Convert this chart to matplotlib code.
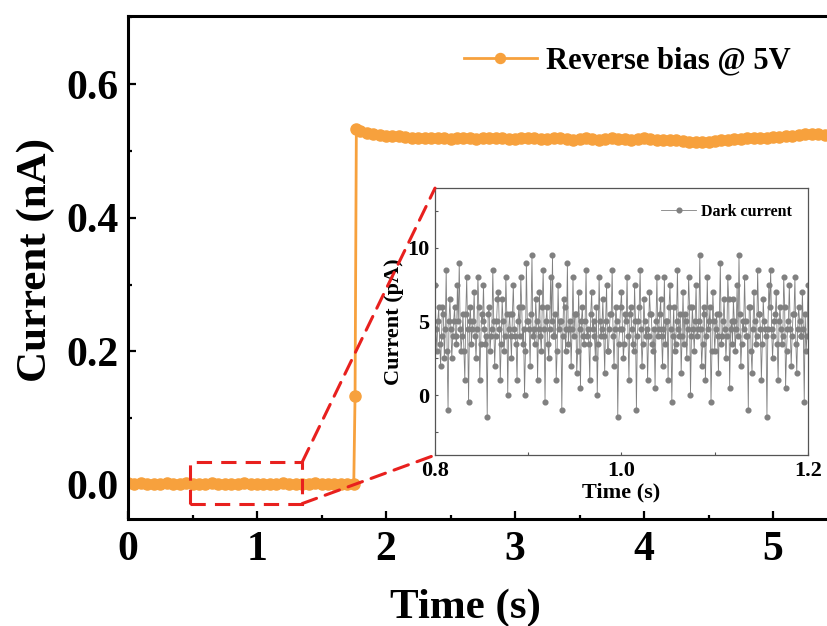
import numpy as np
import matplotlib
matplotlib.use('Agg')
import matplotlib.pyplot as plt
from matplotlib.patches import Rectangle, ConnectionPatch
from matplotlib.ticker import MultipleLocator

plt.rcParams['font.family'] = ['Liberation Serif', 'DejaVu Serif']
plt.rcParams['font.weight'] = 'bold'

# main trace: current (nA) under reverse bias, sampled every 0.05 s
t_main = np.round(np.arange(0.0, 1.751, 0.05), 2).tolist() + [1.76, 1.77] + \
    np.round(np.arange(1.80, 5.651, 0.05), 2).tolist()
i_main = [
    0.003, 0.002, 0.003, 0.002, 0.001, 0.002, 0.003, 0.002, 0.002, 0.003,
    0.002, 0.001, 0.002, 0.003, 0.002, 0.002, 0.001, 0.002, 0.003, 0.002,
    0.002, 0.001, 0.002, 0.002, 0.003, 0.002, 0.001, 0.002, 0.002, 0.003,
    0.002, 0.002, 0.001, 0.002, 0.002, 0.002,
    0.133, 0.533,
    0.530, 0.527, 0.525, 0.524, 0.523, 0.522, 0.522, 0.521, 0.520, 0.520,
    0.519, 0.519, 0.520, 0.519, 0.518, 0.519, 0.520, 0.519, 0.518, 0.519,
    0.520, 0.519, 0.519, 0.518, 0.518, 0.519, 0.520, 0.519, 0.518, 0.518,
    0.519, 0.519, 0.518, 0.517, 0.518, 0.519, 0.518, 0.517, 0.518, 0.519,
    0.518, 0.518, 0.517, 0.518, 0.519, 0.518, 0.517, 0.517, 0.516, 0.516,
    0.515, 0.514, 0.514, 0.513, 0.514, 0.515, 0.516, 0.517, 0.518, 0.518,
    0.519, 0.519, 0.520, 0.520, 0.521, 0.521, 0.522, 0.523, 0.524, 0.525,
    0.526, 0.525, 0.524, 0.525, 0.526, 0.526, 0.527, 0.527,
]

# inset trace: dark current (pA), sampled every 1 ms
t_dark = np.round(np.arange(0.8, 1.2001, 0.001), 3)
# samples at even ms (0.800, 0.802, ...)
i_dark_even = [
    7.5, 3.0, 6.0, 2.0, 6.0, 2.5, 8.5, -1.0, 6.5, 2.5, 5.0, 4.0, 7.5, 9.0, 3.0, 5.5, 1.0, 8.0, -0.5, 6.0,
    4.5, 7.0, 2.5, 8.0, 1.0, 5.5, 7.5, 3.5, -1.5, 6.0, 4.0, 8.5, 2.0, 5.0, 7.0, 1.0, 6.5, 3.0, 8.0, 0.0,
    5.5, 2.5, 7.5, 4.0, 1.0, 6.0, 8.0, 3.5, 0.0, 9.0, 5.0, 2.0, 9.5, 4.5, 6.5, 1.0, 7.0, 3.0, 8.5, -0.5,
    6.0, 2.5, 8.0, 9.5, 4.0, 1.0, 7.5, 5.0, -1.0, 6.5, 3.0, 9.0, 4.5, 2.0, 8.0, 5.5, 1.5, 7.0, 0.5, 6.0,
    3.5, 8.5, 4.5, 1.0, 7.0, 5.0, 2.5, 0.0, 8.0, 4.0, 6.5, 1.5, 7.5, 3.0, 5.5, 8.5, 2.0, 6.0, -1.5, 4.5,
    7.0, 2.5, 5.5, 8.0, 1.0, 6.0, 3.5, 7.5, -1.0, 5.0, 8.5, 2.0, 6.5, 4.0, 1.0, 7.0, 5.5, 3.0, 0.5, 8.0,
    4.5, 6.5, 2.0, 8.0, 5.0, 1.0, 7.5, -0.5, 6.0, 3.5, 8.5, 4.0, 1.5, 7.0, 5.5, 2.5, 8.0, 0.0, 6.0, 3.0,
    7.5, 4.5, 9.5, 2.0, 6.0, 1.0, 8.0, 5.0, -0.5, 7.0, 3.0, 5.5, 1.5, 9.0, 4.0, 6.5, 2.5, 8.0, 0.5, 5.0,
    6.5, 3.0, 7.5, 9.5, 2.0, 5.0, 8.0, 4.0, -1.0, 6.0, 1.5, 7.0, 3.5, 8.5, 5.5, 1.0, 6.5, 4.5, -1.5, 7.5,
    8.5, 2.5, 5.0, 7.0, 1.0, 6.0, 3.5, 8.0, 0.5, 4.5, 7.5, 2.0, 5.5, 8.0, 1.5, 6.0, 4.0, 7.0, -0.5, 3.0,
    7.5,
]
# samples at odd ms (0.801, 0.803, ...)
i_dark_odd = [
    4.5, 5.0, 3.5, 4.0, 5.5, 4.5, 3.0, 5.0, 4.5, 4.0, 6.0, 3.5, 5.0, 4.5, 4.0, 3.0, 5.5, 4.5, 5.0, 3.5,
    5.0, 4.0, 4.5, 6.0, 3.5, 5.0, 4.5, 4.0, 5.5, 3.0, 4.5, 5.0, 4.0, 6.5, 4.5, 3.5, 5.0, 4.0, 5.5, 4.5,
    4.0, 5.5, 4.5, 3.5, 5.0, 4.0, 6.0, 4.5, 3.0, 5.0, 4.5, 5.5, 4.0, 3.5, 5.0, 4.5, 4.0, 6.0, 4.5, 5.0,
    3.5, 4.5, 5.0, 4.0, 5.5, 3.0, 4.5, 5.0, 4.0, 6.0, 4.5, 3.5, 5.0, 4.5, 4.0, 5.5, 3.0, 4.5, 5.0, 4.0,
    5.0, 4.0, 3.5, 5.5, 4.5, 4.0, 6.0, 3.5, 5.0, 4.5, 4.0, 5.0, 3.0, 4.5, 5.5, 4.0, 4.5, 5.0, 3.5, 6.0,
    4.5, 3.5, 5.0, 4.0, 5.5, 4.5, 3.0, 5.0, 4.0, 6.0, 4.5, 3.5, 5.0, 4.5, 4.0, 5.5, 3.5, 4.5, 5.0, 4.0,
    5.5, 4.0, 4.5, 3.5, 5.0, 6.0, 4.5, 4.0, 3.0, 5.0, 4.5, 5.5, 4.0, 3.5, 5.0, 4.5, 6.0, 4.0, 4.5, 5.0,
    4.0, 5.0, 4.5, 3.5, 5.5, 4.0, 4.5, 6.0, 3.0, 5.0, 4.5, 4.0, 5.5, 3.5, 5.0, 4.5, 4.0, 6.5, 4.5, 3.5,
    5.0, 4.5, 4.0, 5.5, 3.5, 4.5, 5.0, 4.0, 6.0, 3.0, 4.5, 5.0, 4.0, 5.5, 4.5, 3.5, 5.0, 4.0, 4.5, 6.0,
    4.5, 4.0, 5.5, 3.5, 5.0, 4.5, 4.0, 6.0, 3.0, 5.0, 4.5, 4.0, 5.5, 3.5, 4.5, 5.0, 4.0, 4.5, 5.5, 4.0,
]
i_dark = np.empty(len(t_dark))
i_dark[0::2] = i_dark_even
i_dark[1::2] = i_dark_odd

orange = '#f7a13d'
grey = '#808080'
red = '#e8201e'

fig = plt.figure(figsize=(8.27, 6.26), dpi=100)
ax = fig.add_axes([0.1548, 0.171, 0.8735, 0.8034])
ax.plot(t_main, i_main, '-o', color=orange, lw=2, ms=8, label='Reverse bias @ 5V')
ax.set_xlim(0, 5.6)
ax.set_ylim(-0.051, 0.702)
ax.xaxis.set_major_locator(MultipleLocator(1))
ax.xaxis.set_minor_locator(MultipleLocator(0.5))
ax.yaxis.set_major_locator(MultipleLocator(0.2))
ax.yaxis.set_minor_locator(MultipleLocator(0.1))
ax.tick_params(which='both', direction='in', width=1.6, labelsize=30)
ax.tick_params(axis='y', pad=7)
ax.tick_params(axis='x', pad=9)
ax.tick_params(which='major', length=6)
ax.tick_params(which='minor', length=3)
for s in ax.spines.values():
    s.set_linewidth(2.2)
ax.set_xlabel('Time (s)', fontsize=31, fontweight='bold')
ax.set_ylabel('Current (nA)', fontsize=31, fontweight='bold')
ax.xaxis.set_label_coords(0.467, -0.138)
ax.yaxis.set_label_coords(-0.101, 0.515)
ax.legend(loc='center left', bbox_to_anchor=(0.542, 0.903), bbox_transform=fig.transFigure,
          frameon=False, fontsize=22, handlelength=2.4, handletextpad=0.3, borderpad=0,
          markerscale=0.9)

# zoom box
ax.add_patch(Rectangle((0.48, -0.028), 0.87, 0.062, fill=False, ec=red,
                       lw=2.2, ls=(0, (5, 3)), zorder=5))

# inset
axin = fig.add_axes([0.526, 0.273, 0.451, 0.4265])
axin.plot(t_dark, i_dark, '-o', color=grey, lw=0.6, ms=3.4, label='Dark current')
axin.set_xlim(0.8, 1.2)
axin.set_ylim(-4.07, 14.05)
axin.xaxis.set_major_locator(MultipleLocator(0.2))
axin.xaxis.set_minor_locator(MultipleLocator(0.1))
axin.yaxis.set_major_locator(MultipleLocator(5))
axin.yaxis.set_minor_locator(MultipleLocator(2.5))
axin.tick_params(which='both', direction='in', length=2, width=0.8, color='#555555',
                 labelsize=16, pad=4)
for s in axin.spines.values():
    s.set_linewidth(0.9)
    s.set_color('#555555')
axin.set_xlabel('Time (s)', fontsize=16, fontweight='bold', labelpad=1)
axin.set_ylabel('Current (pA)', fontsize=16, fontweight='bold', labelpad=2)
axin.legend(loc='upper right', frameon=False, fontsize=11.5, handlelength=2.2,
            handletextpad=0.3, borderaxespad=0.6)

# connector lines from zoom box to inset
for ya, yb in [(0.034, 1.0), (-0.028, 0.0)]:
    con = ConnectionPatch(xyA=(1.35, ya), coordsA=ax.transData,
                          xyB=(0.0, yb), coordsB=axin.transAxes,
                          color=red, lw=2.2, ls=(0, (5, 3)), zorder=10)
    fig.add_artist(con)

fig.savefig('out.png', dpi=100)
